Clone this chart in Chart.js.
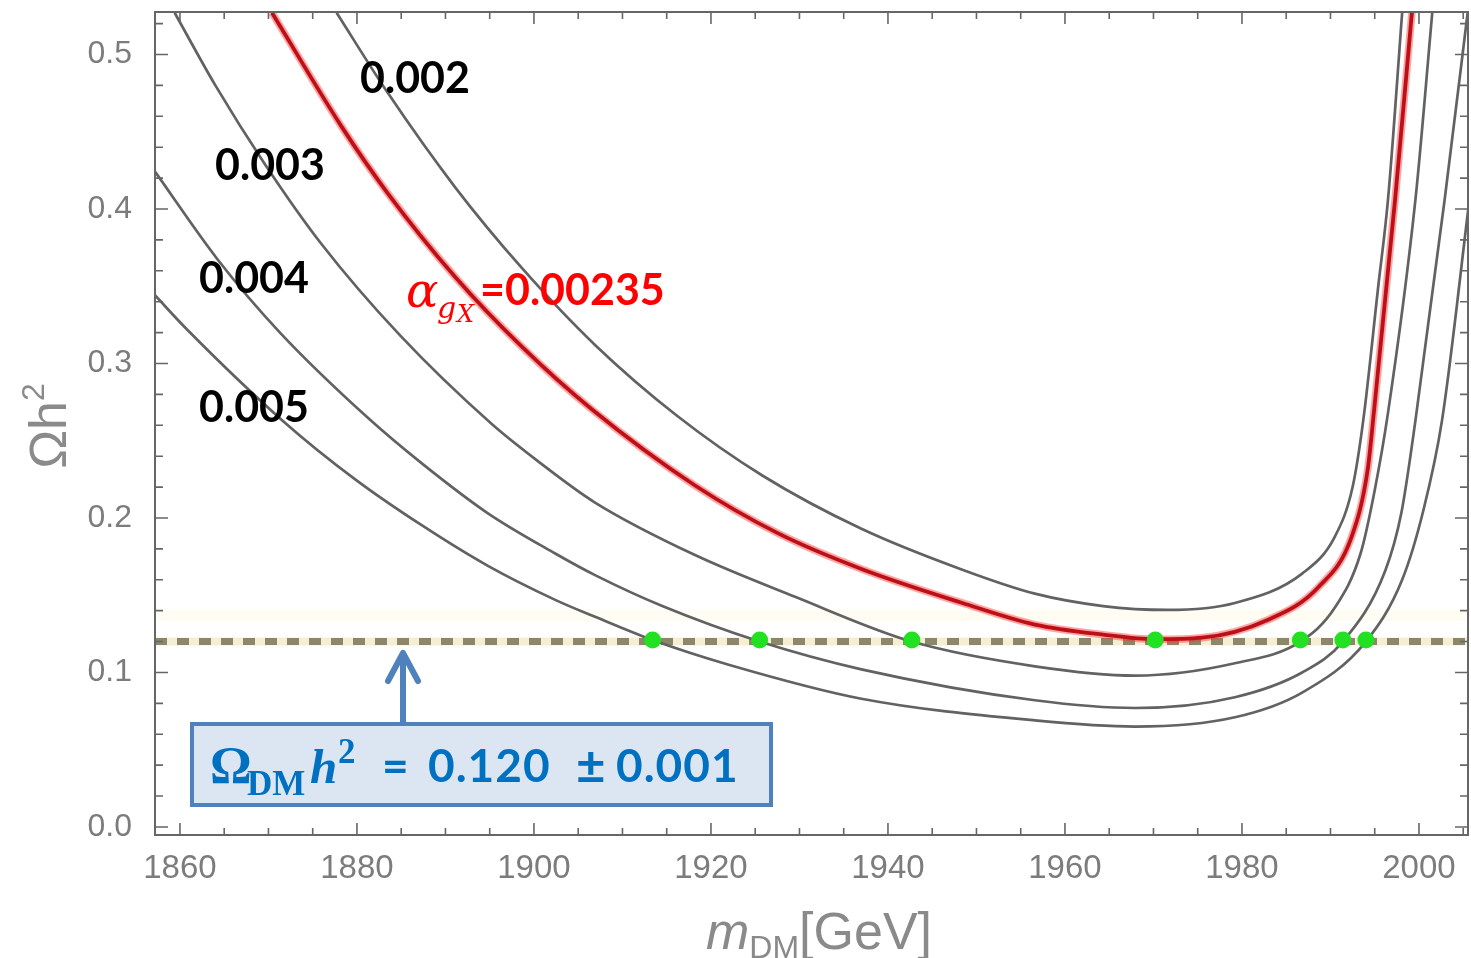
<!DOCTYPE html>
<html lang="en">
<head>
<meta charset="UTF-8">
<title>Relic density vs DM mass</title>
<script src="https://cdn.jsdelivr.net/npm/chart.js"></script>
<style>
    body { margin: 0; background: #fff; }
    #wrap { position: relative; width: 1471px; height: 958px; overflow: hidden; }
    #wrap canvas { position: absolute; left: 0; top: 0; }
    .abs { position: absolute; line-height: 1; white-space: nowrap; }
    .num { font-family: Lato, sans-serif; font-weight: 700; font-size: 43px; color: #000; }
    .red { color: #ff0000; }
    .greek { font-family: "DejaVu Serif", serif; font-style: italic; }
    .blue { color: #0070c0; }
    .serifb { font-family: "Liberation Serif", serif; font-weight: 700; }
    .lato46 { font-family: Lato, sans-serif; font-weight: 700; font-size: 46px; letter-spacing: 1px; }
    #box { left: 190px; top: 722px; width: 583px; height: 85px; box-sizing: border-box;
           border: 4px solid #4f81bd; background: #dce6f2; }
    .axt { font-family: "Liberation Sans", Arial, sans-serif; color: #8a8a8a; }
</style>
</head>
<body>
<div id="wrap">
    <canvas id="relic" width="1471" height="958"></canvas>

    <!-- curve labels -->
    <div class="abs num" style="left:360px;top:55px">0.002</div>
    <div class="abs num" style="left:215px;top:142px">0.003</div>
    <div class="abs num" style="left:199px;top:255px">0.004</div>
    <div class="abs num" style="left:199px;top:384px">0.005</div>

    <div class="abs greek red" style="left:406px;top:266px;font-size:48px">α</div>
    <div class="abs greek red" style="left:437px;top:293px;font-size:30px">g</div>
    <div class="abs greek red" style="left:457px;top:302px;font-size:24px">X</div>
    <div class="abs num red" style="left:480px;top:267px">=0.00235</div>

    <!-- Planck value box -->
    <svg class="abs" width="1471" height="958" style="left:0;top:0">
        <line x1="403" y1="722" x2="403" y2="656" stroke="#4f81bd" stroke-width="6"/>
        <polyline points="388,681 403,653 418,681" fill="none" stroke="#4f81bd" stroke-width="6"
                  stroke-linecap="round" stroke-linejoin="round"/>
    </svg>
    <div id="box" class="abs"></div>
    <div class="abs serifb blue" style="left:210px;top:740px;font-size:52px">Ω</div>
    <div class="abs serifb blue" style="left:247px;top:766px;font-size:35px">DM</div>
    <div class="abs serifb blue" style="left:310px;top:742px;font-size:49px;font-style:italic">h</div>
    <div class="abs serifb blue" style="left:338px;top:734px;font-size:35px">2</div>
    <div class="abs lato46 blue" style="left:382px;top:742px">=</div>
    <div class="abs lato46 blue" style="left:428px;top:742px">0.120</div>
    <div class="abs lato46 blue" style="left:576px;top:739px;font-size:51px">±</div>
    <div class="abs lato46 blue" style="left:616px;top:742px">0.001</div>

    <!-- axis titles -->
    <div class="abs axt" style="left:48px;top:426px;font-size:52px;transform:translate(-50%,-50%) rotate(-90deg)">Ωh<span style="font-size:32px;position:relative;top:-22px">2</span></div>
    <div class="abs axt" style="left:706px;top:905px;font-size:52px"><i>m</i><span style="font-size:32px;position:relative;top:9px">DM</span>[GeV]</div>
</div>

<script>
    // axis ticks
    const xTicks = [1860, 1880, 1900, 1920, 1940, 1960, 1980, 2000];
    const yTicks = [0.0, 0.1, 0.2, 0.3, 0.4, 0.5];

    // alpha_gX = 0.002
    const mass002 = [1877.7, 1883.5, 1891.1, 1898.6, 1906.9, 1916.2, 1925.8, 1937.0, 1948.4, 1956.6,
                     1964.3, 1971.6, 1979.2, 1986.8, 1990.5, 1992.5, 1993.7, 1995.4, 1996.5, 1998.1];
    const omega002 = [0.527, 0.475, 0.414, 0.362, 0.312, 0.266, 0.2275, 0.193, 0.1665, 0.151,
                      0.143, 0.1405, 0.145, 0.164, 0.188, 0.220, 0.263, 0.350, 0.406, 0.527];

    // alpha_gX = 0.00235 (red)
    const mass00235 = [1870.4, 1878.3, 1883.5, 1891.1, 1898.6, 1906.6, 1918.2, 1927.6, 1937.0, 1948.4, 1956.6,
                       1964.3, 1970.2, 1975.5, 1982.9, 1988.6, 1992.4, 1994.2, 1994.9, 1997.3, 1999.2];
    const omega00235 = [0.527, 0.453, 0.410, 0.356, 0.311, 0.270, 0.221, 0.190, 0.167, 0.145, 0.131,
                        0.1245, 0.1215, 0.1225, 0.134, 0.155, 0.188, 0.231, 0.268, 0.406, 0.527];

    // alpha_gX = 0.003
    const mass003 = [1859.4, 1864.0, 1869.6, 1875.9, 1884.9, 1895.2, 1900.4, 1906.9, 1918.2, 1929.5,
                     1942.7, 1956.6, 1967.9, 1979.2, 1986.6, 1990.5, 1993.4, 1995.0, 1996.5, 1999.6, 2001.5];
    const omega003 = [0.527, 0.480, 0.429, 0.378, 0.318, 0.261, 0.237, 0.210, 0.176, 0.149,
                      0.120, 0.104, 0.098, 0.106, 0.120, 0.142, 0.177, 0.218, 0.268, 0.406, 0.527];

    // alpha_gX = 0.004
    const mass004 = [1857.2, 1864.3, 1871.3, 1881.2, 1887.4, 1894.8, 1902.4, 1906.9, 1914.5, 1925.5,
                     1937.0, 1956.6, 1967.9, 1979.2, 1986.8, 1991.4, 1996.2, 1998.0, 1999.6, 2002.9, 2005.5];
    const omega004 = [0.424, 0.367, 0.320, 0.265, 0.235, 0.203, 0.177, 0.163, 0.143, 0.120,
                      0.102, 0.082, 0.077, 0.084, 0.100, 0.120, 0.166, 0.203, 0.263, 0.406, 0.527];

    // alpha_gX = 0.005
    const mass005 = [1857.2, 1860.8, 1871.6, 1879.8, 1887.4, 1894.8, 1902.4, 1906.9, 1913.4, 1922.0,
                     1937.0, 1956.6, 1967.9, 1979.2, 1986.8, 1994.0, 1998.1, 2000.5, 2002.6, 2005.7];
    const omega005 = [0.344, 0.322, 0.263, 0.225, 0.195, 0.169, 0.147, 0.136, 0.121, 0.105,
                      0.083, 0.069, 0.065, 0.071, 0.087, 0.120, 0.160, 0.205, 0.263, 0.406];

    // crossings with the observed relic density
    const hitMass = [1913.4, 1925.5, 1942.7, 1970.2, 1986.6, 1991.4, 1994.0];
    const hitOmega = [0.121, 0.121, 0.121, 0.121, 0.121, 0.121, 0.121];

    const planckOmega = 0.12;
    const xMin = 1857.18, xMax = 2005.54;
    const yMin = -0.0052, yMax = 0.5275;

    function pts(ms, os) {
        return ms.map((m, i) => ({ x: m, y: os[i] }));
    }

    function curve(ms, os, color, width, order) {
        return {
            data: pts(ms, os),
            borderColor: color,
            borderWidth: width,
            pointRadius: 0,
            cubicInterpolationMode: 'monotone',
            fill: false,
            order: order
        };
    }

    // frame with inward ticks on every side, Mathematica style
    const frameTicks = {
        id: 'frameTicks',
        afterDraw(chart) {
            const { ctx, chartArea: a, scales: { x, y } } = chart;
            ctx.save();
            ctx.strokeStyle = '#666';
            ctx.lineWidth = 2;
            ctx.strokeRect(a.left, a.top, a.right - a.left, a.bottom - a.top);
            ctx.lineWidth = 1.6;
            ctx.beginPath();
            for (let v = 1860; v <= xMax; v += 5) {
                const px = x.getPixelForValue(v);
                const len = v % 20 === 0 ? 12 : 7;
                ctx.moveTo(px, a.bottom); ctx.lineTo(px, a.bottom - len);
                ctx.moveTo(px, a.top); ctx.lineTo(px, a.top + len);
            }
            for (let i = 0; i * 0.02 <= yMax; i++) {
                const py = y.getPixelForValue(i * 0.02);
                const len = i % 5 === 0 ? 13 : 8;
                ctx.moveTo(a.left, py); ctx.lineTo(a.left + len, py);
                ctx.moveTo(a.right, py); ctx.lineTo(a.right - len, py);
            }
            ctx.stroke();
            ctx.restore();
        }
    };

    const grey = '#626262';

    new Chart(document.getElementById('relic'), {
        type: 'line',
        data: {
            datasets: [
                // faint band edge above the line
                {
                    data: [{ x: xMin, y: 0.137 }, { x: xMax, y: 0.137 }],
                    borderColor: 'rgba(255, 248, 215, 0.3)', borderWidth: 12, pointRadius: 0, order: 9
                },
                // relic density line
                {
                    data: [{ x: xMin, y: planckOmega }, { x: xMax, y: planckOmega }],
                    borderColor: '#f4efd2', borderWidth: 8, pointRadius: 0, order: 8
                },
                {
                    data: [{ x: xMin, y: planckOmega }, { x: xMax, y: planckOmega }],
                    borderColor: '#8c866a', borderWidth: 7, borderDash: [12, 10],
                    pointRadius: 0, order: 7
                },
                curve(mass002, omega002, grey, 2.7, 5),
                curve(mass003, omega003, grey, 2.7, 5),
                curve(mass004, omega004, grey, 2.7, 5),
                curve(mass005, omega005, grey, 2.7, 5),
                curve(mass00235, omega00235, 'rgba(255, 50, 50, 0.45)', 7.5, 3),
                curve(mass00235, omega00235, '#bc1018', 3.8, 2),
                {
                    data: pts(hitMass, hitOmega),
                    showLine: false,
                    pointRadius: 8.5,
                    pointBackgroundColor: '#22e022',
                    pointBorderWidth: 0,
                    order: 0
                }
            ]
        },
        options: {
            responsive: false,
            animation: false,
            devicePixelRatio: 1,
            layout: { autoPadding: false, padding: { top: 12, right: 3, left: 0, bottom: 0 } },
            plugins: { legend: { display: false }, tooltip: { enabled: false } },
            scales: {
                x: {
                    type: 'linear',
                    min: xMin,
                    max: xMax,
                    afterBuildTicks: s => { s.ticks = xTicks.map(v => ({ value: v })); },
                    afterFit: s => { s.height = 123; s.paddingLeft = 0; s.paddingRight = 0; },
                    grid: { display: false },
                    border: { display: false },
                    ticks: {
                        padding: 6,
                        color: '#7c7c7c',
                        font: { family: 'Liberation Sans', size: 33 },
                        callback: v => String(v),
                        maxRotation: 0
                    }
                },
                y: {
                    type: 'linear',
                    min: yMin,
                    max: yMax,
                    afterBuildTicks: s => { s.ticks = yTicks.map(v => ({ value: v })); },
                    afterFit: s => { s.width = 155; s.paddingTop = 0; s.paddingBottom = 0; },
                    grid: { display: false },
                    border: { display: false },
                    ticks: {
                        padding: 15,
                        color: '#7c7c7c',
                        font: { family: 'Liberation Sans', size: 32 },
                        callback: v => v.toFixed(1)
                    }
                }
            }
        },
        plugins: [frameTicks]
    });
</script>
</body>
</html>
